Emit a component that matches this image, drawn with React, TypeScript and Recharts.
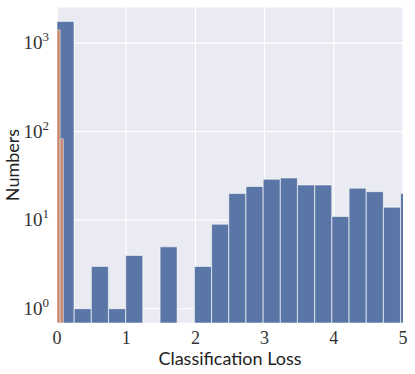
import {
  ComposedChart,
  Bar,
  XAxis,
  YAxis,
  CartesianGrid,
  ReferenceArea,
} from "recharts";

// histogram of classification loss (log counts)
const BIN_WIDTH = 0.2483;
const blueCounts = [1760, 1, 3, 1, 4, null, 5, null, 3, 9, 20, 24, 29, 30, 25, 25, 11, 23, 21, 14, 20];

// thin second histogram near zero
const orangeEdges = [0, 0.046, 0.092];
const orangeCounts = [1410, 83];

const xTicks = [0, 1, 2, 3, 4, 5];
const yTicks = [1, 10, 100, 1000];
const Y_MIN = 0.69;
const Y_MAX = 2560;

const blueData = blueCounts.map((c, i) => ({ x: (i + 0.5) * BIN_WIDTH, count: c }));

const BLUE = "#5a76a6";
const ORANGE = "#c5866d";
const serif = "'Liberation Serif', 'DejaVu Serif', serif";
const sans = "Lato, 'DejaVu Sans', sans-serif";

const PowTick = ({ x, y, payload }: any) => {
  const exp = Math.round(Math.log10(payload.value));
  return (
    <text x={x} y={y} dy={6} textAnchor="end" fill="#333" fontFamily={serif} fontSize={19}>
      10
      <tspan dy={-8} fontSize={13}>{exp}</tspan>
    </text>
  );
};

export default function App() {
  return (
    <div style={{ position: "absolute", left: 0, top: 0, background: "#fff" }}>
      <ComposedChart
        width={415}
        height={374}
        data={blueData}
        margin={{ top: 7, right: 12, left: 0, bottom: 0 }}
        barCategoryGap={0}
        barGap={0}
      >
        <CartesianGrid stroke="#ffffff" strokeWidth={1.2} fill="#eaeaf2" fillOpacity={1} />
        <XAxis
          dataKey="x"
          type="number"
          domain={[0, 5]}
          ticks={xTicks}
          allowDataOverflow
          axisLine={false}
          tickLine={false}
          height={51}
          tick={{ fill: "#333", fontFamily: serif, fontSize: 18 }}
          tickMargin={2}
          label={{
            value: "Classification Loss",
            position: "insideBottom",
            offset: 9,
            fill: "#222",
            fontFamily: sans,
            fontSize: 18,
          }}
        />
        <YAxis
          type="number"
          scale="log"
          domain={[Y_MIN, Y_MAX]}
          ticks={yTicks}
          allowDataOverflow
          axisLine={false}
          tickLine={false}
          width={57}
          tick={<PowTick />}
          label={{
            value: "Numbers",
            angle: -90,
            position: "insideLeft",
            offset: 13,
            fill: "#222",
            fontFamily: sans,
            fontSize: 18,
            style: { textAnchor: "middle" },
          }}
        />
        <Bar
          dataKey="count"
          fill={BLUE}
          stroke="#ffffff"
          strokeOpacity={0.55}
          strokeWidth={1}
          isAnimationActive={false}
        />
        {orangeCounts.map((c, i) => (
          <ReferenceArea
            key={i}
            x1={orangeEdges[i]}
            x2={orangeEdges[i + 1]}
            y1={Y_MIN}
            y2={c}
            fill={ORANGE}
            fillOpacity={1}
            stroke="#ffffff"
            strokeOpacity={0.5}
            ifOverflow="hidden"
            zIndex={1000}
          />
        ))}
      </ComposedChart>
    </div>
  );
}
